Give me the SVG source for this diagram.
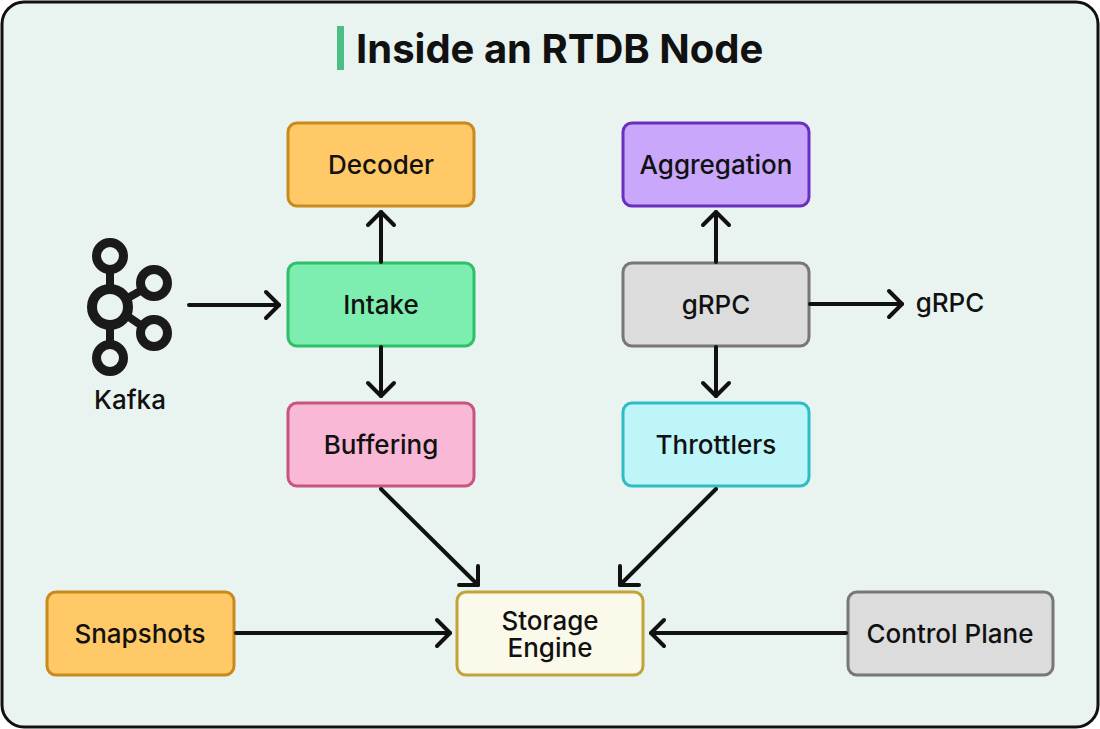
<svg xmlns="http://www.w3.org/2000/svg" width="1100" height="729" viewBox="0 0 1100 729">
<defs>
<style>
.lbl{font-family:Inter,"Noto Sans","Liberation Sans",sans-serif;font-size:26px;font-weight:500;fill:#111;text-anchor:middle}
.box{stroke-width:3}
.conn line,.conn polyline{stroke:#111;stroke-width:4;fill:none;stroke-linecap:round;stroke-linejoin:round}
.kf{fill:none;stroke:#1a1a1a}
</style>
</defs>
<rect x="2" y="2" width="1096" height="725" rx="22" fill="#e9f3ef" stroke="#111" stroke-width="3"/>
<g id="title">
<rect x="337" y="26" width="7" height="44" fill="#4dbf85"/>
<text x="356" y="63" font-family="Inter,'Noto Sans','Liberation Sans',sans-serif" font-size="40" font-weight="700" fill="#111">Inside an RTDB Node</text>
</g>
<g id="kafka">
<g class="kf">
<circle cx="110" cy="307" r="18" stroke-width="10"/>
<circle cx="110" cy="256" r="13.5" stroke-width="9"/>
<circle cx="154" cy="283" r="13.5" stroke-width="9"/>
<circle cx="154" cy="333" r="13.5" stroke-width="9"/>
<circle cx="110" cy="358" r="13.5" stroke-width="9"/>
<line x1="110" y1="269" x2="110" y2="290" stroke-width="8"/>
<line x1="110" y1="324" x2="110" y2="345" stroke-width="8"/>
<line x1="126" y1="299" x2="142" y2="290" stroke-width="8"/>
<line x1="126" y1="315" x2="142" y2="326" stroke-width="8"/>
</g>
<text class="lbl" x="130" y="409">Kafka</text>
</g>
<g id="decoder"><rect class="box" x="288" y="123" width="186" height="83" rx="9" fill="#fec966" stroke="#c98a1c"/><text class="lbl" x="381" y="174">Decoder</text></g>
<g id="aggregation"><rect class="box" x="623" y="123" width="186" height="83" rx="9" fill="#c9a7fb" stroke="#6a2fbf"/><text class="lbl" x="716" y="174">Aggregation</text></g>
<g id="intake"><rect class="box" x="288" y="263" width="186" height="83" rx="9" fill="#7deeaf" stroke="#2fbf6a"/><text class="lbl" x="381" y="314">Intake</text></g>
<g id="grpc"><rect class="box" x="623" y="263" width="186" height="83" rx="9" fill="#dcdcdc" stroke="#777"/><text class="lbl" x="716" y="314">gRPC</text></g>
<g id="buffering"><rect class="box" x="288" y="403" width="186" height="83" rx="9" fill="#f9b8d6" stroke="#c8557f"/><text class="lbl" x="381" y="454">Buffering</text></g>
<g id="throttlers"><rect class="box" x="623" y="403" width="186" height="83" rx="9" fill="#bdf5f8" stroke="#2ebcc6"/><text class="lbl" x="716" y="454">Throttlers</text></g>
<g id="snapshots"><rect class="box" x="47" y="592" width="187" height="83" rx="9" fill="#fec966" stroke="#c98a1c"/><text class="lbl" x="140" y="643">Snapshots</text></g>
<g id="storage"><rect class="box" x="457" y="592" width="186" height="83" rx="9" fill="#fbf9ea" stroke="#c3a23a"/><text class="lbl" x="550" y="630">Storage</text><text class="lbl" x="550" y="657">Engine</text></g>
<g id="control"><rect class="box" x="848" y="592" width="205" height="83" rx="9" fill="#dcdcdc" stroke="#777"/><text class="lbl" x="950" y="643">Control Plane</text></g>
<g id="grpc-out"><text class="lbl" x="950" y="312">gRPC</text></g>
<g class="conn" id="connectors">
<line x1="189" y1="305" x2="279" y2="305"/><polyline points="266,292 279,305 266,318"/>
<line x1="381" y1="262" x2="381" y2="212"/><polyline points="368,225 381,212 394,225"/>
<line x1="381" y1="347" x2="381" y2="396"/><polyline points="368,383 381,396 394,383"/>
<line x1="716" y1="262" x2="716" y2="212"/><polyline points="703,225 716,212 729,225"/>
<line x1="716" y1="347" x2="716" y2="396"/><polyline points="703,383 716,396 729,383"/>
<line x1="810" y1="304" x2="902" y2="304"/><polyline points="889,291 902,304 889,317"/>
<line x1="381" y1="489" x2="478" y2="585"/><polyline points="478,566 478,585 459,585"/>
<line x1="716" y1="489" x2="620" y2="585"/><polyline points="620,566 620,585 639,585"/>
<line x1="236" y1="633" x2="450" y2="633"/><polyline points="437,620 450,633 437,646"/>
<line x1="846" y1="633" x2="651" y2="633"/><polyline points="664,620 651,633 664,646"/>
</g>
</svg>
